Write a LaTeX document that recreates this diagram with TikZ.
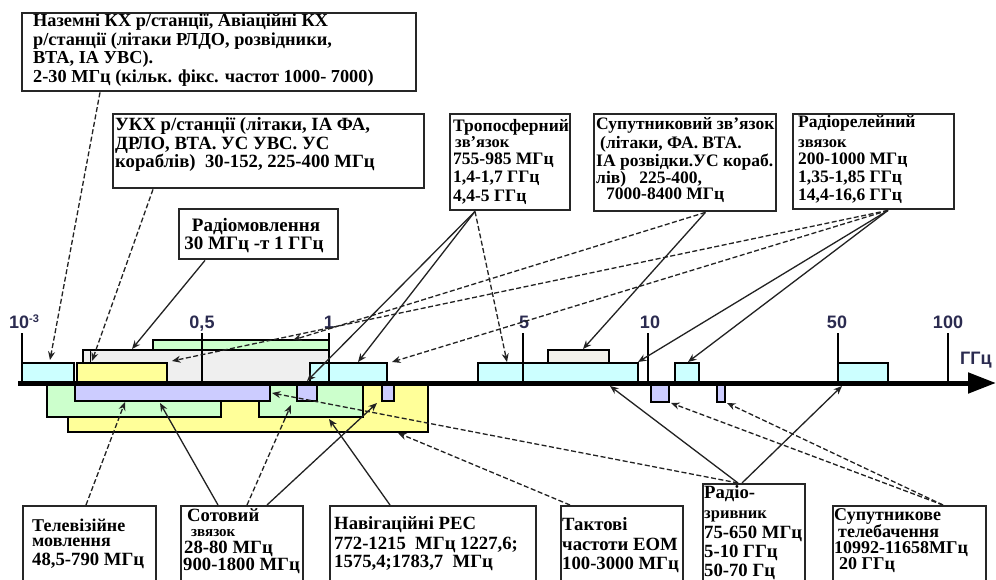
\documentclass[tikz,border=0pt]{standalone}
\usepackage{fontspec}
\setmainfont{Liberation Serif}
\newfontfamily\axfont{Liberation Sans}
\usetikzlibrary{arrows.meta,calc}
\definecolor{cCyan}{HTML}{CCFFFF}
\definecolor{cYellow}{HTML}{FFFF99}
\definecolor{cGreen}{HTML}{CCFFCC}
\definecolor{cPurple}{HTML}{CCCCFF}
\definecolor{cGray}{HTML}{EFEFEF}
\definecolor{cBeige}{HTML}{F3F1EA}
\definecolor{cAx}{HTML}{2B2B50}
\definecolor{cLine}{HTML}{222222}
\tikzset{
  boxst/.style={draw=black!85, line width=2.4pt, fill=white, inner sep=0pt, anchor=north west},
  txt/.style={anchor=base west, inner sep=0pt, font=\bfseries\fontsize{18.7}{20}\selectfont},
  txtc/.style={txt, anchor=base},
  ftl/.style={font=\bfseries\fontsize{18.3}{20}\selectfont},
  fup/.style={font=\bfseries\fontsize{17.5}{19}\selectfont},
  frad/.style={font=\bfseries\fontsize{19}{20}\selectfont},
  fst/.style={font=\bfseries\fontsize{18}{19}\selectfont},
  small/.style={font=\bfseries\fontsize{16.5}{17}\selectfont},
  smaller/.style={font=\bfseries\fontsize{15}{16}\selectfont},
  conn/.style={line width=1.3pt, draw=cLine, -{Stealth[length=8.5pt,width=7pt]}},
  dconn/.style={conn, dash pattern=on 5pt off 2.5pt},
  bandst/.style={draw=black, line width=1.3pt},
  tickst/.style={draw=black, line width=1.6pt},
  axl/.style={anchor=base, inner sep=0pt, text=cAx, font=\axfont\bfseries\fontsize{18}{20}\selectfont}
}
\begin{document}
\begin{tikzpicture}[x=1pt,y=-1pt]
\useasboundingbox (0,0) rectangle (996,580);
\fill[white] (0,0) rectangle (996,580);

% ---- bands above the axis
\path[bandst, fill=cGreen]  (153,340) rectangle (329,383);
\path[bandst, fill=cGray]   (83,350) rectangle (329,383);
\draw[line width=1pt] (90,350) -- (90,363);
\path[bandst, fill=cYellow] (77,363) rectangle (167,383);
\path[bandst, fill=cCyan]   (22,363) rectangle (74,383);
\path[bandst, fill=cCyan]   (310,363) rectangle (387,383);
\path[bandst, fill=cCyan]   (478,363) rectangle (638,383);
\path[bandst, fill=cBeige]  (548,350) rectangle (609,363);
\path[bandst, fill=cCyan]   (675,363) rectangle (699,383);
\path[bandst, fill=cCyan]   (838,363) rectangle (888,383);
% ---- bands below the axis
\path[bandst, fill=cYellow] (68,383) rectangle (428,432);
\path[bandst, fill=cGreen]  (47,383) rectangle (221,417);
\path[bandst, fill=cGreen]  (259,383) rectangle (363,417);
\path[bandst, fill=cPurple] (75,383) rectangle (270,401);
\path[bandst, fill=cPurple] (297,383) rectangle (317,401);
\path[bandst, fill=cPurple] (382,383) rectangle (394,401);
\path[bandst, fill=cPurple] (651,383) rectangle (669,402);
\path[bandst, fill=cPurple] (717,383) rectangle (725,402);

% ---- ticks
\foreach \x in {22,202,329,523,648,838,948} \draw[tickst] (\x,333) -- (\x,383);
% ---- axis
\draw[line width=5pt, -{Triangle[length=28pt,width=20pt]}] (18,383) -- (996,383);

% ---- tick labels
\node[axl, anchor=base west] (lA) at (9,328) {10\raisebox{6pt}{\fontsize{11}{11}\selectfont -3}};
\node[axl] (lB) at (202,328) {0,5};
\node[axl] (lC) at (329,328) {1};
\node[axl] (lD) at (524,328) {5};
\node[axl] (lE) at (650,328) {10};
\node[axl] (lF) at (837,328) {50};
\node[axl] (lG) at (948,328) {100};
\node[axl, anchor=base west] (lH) at (960,364) {ГГц};

% ---- boxes
\node[boxst, minimum width=394, minimum height=78] (tl) at (21,12) {};
\node[boxst, minimum width=311, minimum height=74] (ukx) at (112,113) {};
\node[boxst, minimum width=159, minimum height=50] (rad) at (178,208) {};
\node[boxst, minimum width=120, minimum height=96] (tro) at (449,113) {};
\node[boxst, minimum width=182, minimum height=97] (sat) at (593,113) {};
\node[boxst, minimum width=161, minimum height=95] (rrl) at (792,113) {};
\node[boxst, minimum width=133, minimum height=95] (tv) at (22,505) {};
\node[boxst, minimum width=122, minimum height=95] (cel) at (180,505) {};
\node[boxst, minimum width=206, minimum height=95] (nav) at (329,505) {};
\node[boxst, minimum width=122, minimum height=95] (tak) at (560,505) {};
\node[boxst, minimum width=102, minimum height=117] (rz) at (702,483) {};
\node[boxst, minimum width=153, minimum height=95] (st) at (832,505) {};

% ---- connector end points
\coordinate (s1) at ($(tl.south west)+(79,0)$);
\coordinate (s2) at ($(ukx.south west)+(41,0)$);
\coordinate (s3) at ($(rad.south west)+(27,0)$);
\coordinate (s4) at ($(tro.south west)+(26,0)$);
\coordinate (s5) at ($(sat.south east)+(-72,0)$);
\coordinate (s6) at ($(rrl.south west)+(96,0)$);
\coordinate (b1) at ($(tv.north west)+(64,0)$);
\coordinate (b2) at ($(cel.north west)+(38,0)$);
\coordinate (b3) at ($(cel.north west)+(67,0)$);
\coordinate (b4) at ($(cel.north west)+(87,0)$);
\coordinate (b5) at ($(nav.north west)+(61,0)$);
\coordinate (b6) at ($(tak.north west)+(10,0)$);
\coordinate (b7) at ($(rz.north west)+(36,0)$);
\coordinate (b8) at ($(rz.north west)+(40,0)$);
\coordinate (b9) at ($(st.north west)+(111,0)$);

\coordinate (t1) at (50,360);
\coordinate (t2) at (92,361);
\coordinate (t3) at (132,349);
\coordinate (t4) at (307,381);
\coordinate (t5) at (358,362);
\coordinate (t6) at (507,362);
\coordinate (t7) at (293,340);
\coordinate (t8) at (583,349);
\coordinate (t9) at (172,361);
\coordinate (t10) at (392,362);
\coordinate (t11) at (638,362);
\coordinate (t12) at (688,362);
\coordinate (u1) at (125,402);
\coordinate (u2) at (160,403);
\coordinate (u3) at (291,405);
\coordinate (u4) at (377,403);
\coordinate (u5) at (329,419);
\coordinate (u6) at (398,433);
\coordinate (u7) at (272,393);
\coordinate (u8) at (610,386);
\coordinate (u9) at (842,386);
\coordinate (u10) at (671,403);
\coordinate (u11) at (727,403);

% ---- connectors
\draw[dconn] (s1) -- (t1);
\draw[dconn] (s2) -- (t2);
\draw[conn]  (s3) -- (t3);
\draw[conn]  (s4) -- (t4);
\draw[conn]  (s4) -- (t5);
\draw[dconn] (s4) -- (t6);
\draw[dconn] (s5) -- (t7);
\draw[conn]  (s5) -- (t8);
\draw[dconn] (s6) -- (t9);
\draw[dconn] (s6) -- (t10);
\draw[conn]  (s6) -- (t11);
\draw[conn]  (s6) -- (t12);
\draw[dconn] (b1) -- (u1);
\draw[conn]  (b2) -- (u2);
\draw[dconn] (b3) -- (u3);
\draw[conn]  (b4) -- (u4);
\draw[conn]  (b5) -- (u5);
\draw[dconn] (b6) -- (u6);
\draw[dconn] (b7) -- (u7);
\draw[conn]  (b7) -- (u8);
\draw[conn]  (b8) -- (u9);
\draw[dconn] (b9) -- (u10);
\draw[dconn] (b9) -- (u11);

% ---- texts
\node[txt, ftl] (tl1) at (33,27) {Наземні КХ р/станції, Авіаційні КХ};
\node[txt, ftl] (tl2) at (33,46) {р/станції (літаки РЛДО, розвідники,};
\node[txt, ftl] (tl3) at (33,64) {ВТА, ІА УВС).};
\node[txt, ftl] (tl4) at (33,83) {2-30 МГц (кільк. фікс. частот 1000- 7000)};

\node[txt] (uk1) at (115,131) {УКХ р/станції (літаки, ІА ФА,};
\node[txt] (uk2) at (115,150) {ДРЛО, ВТА. УС УВС. УС};
\node[txt] (uk3) at (115,168) {кораблів)\ \ 30-152, 225-400 МГц};

\node[txtc, frad] (ra1) at (256,232) {Радіомовлення};
\node[txtc, frad] (ra2) at (254,250) {30 МГц -т 1 ГГц};

\node[txt, fup] (tr1) at (453,132) {Тропосферний};
\node[txt, small] (tr2) at (455,148) {зв'язок};
\node[txt, fup] (tr3) at (453,165) {755-985 МГц};
\node[txt, fup] (tr4) at (453,183) {1,4-1,7 ГГц};
\node[txt, fup] (tr5) at (453,202) {4,4-5 ГГц};

\node[txt, fup] (sa1) at (596,130) {Супутниковий зв'язок};
\node[txt, fup] (sa2) at (600,149) {(літаки, ФА. ВТА.};
\node[txt, fup] (sa3) at (596,167) {ІА розвідки.УС кораб.};
\node[txt, fup] (sa4) at (596,184) {лів)\ \ \ 225-400,};
\node[txt, fup] (sa5) at (606,200) {7000-8400 МГц};

\node[txt, fup] (rr1) at (798,128) {Радіорелейний};
\node[txt, small] (rr2) at (798,148) {звязок};
\node[txt, fup] (rr3) at (798,165) {200-1000 МГц};
\node[txt, fup] (rr4) at (798,183) {1,35-1,85 ГГц};
\node[txt, fup] (rr5) at (798,201) {14,4-16,6 ГГц};

\node[txt, fst] (tv1) at (32,531) {Телевізійне};
\node[txt, fst] (tv2) at (32,546) {мовлення};
\node[txt] (tv3) at (32,565) {48,5-790 МГц};

\node[txt] (ce1) at (187,521) {Сотовий};
\node[txt, smaller] (ce2) at (191,536) {звязок};
\node[txt] (ce3) at (184,553) {28-80 МГц};
\node[txt] (ce4) at (183,570) {900-1800 МГц};

\node[txt] (na1) at (334,529) {Навігаційні РЕС};
\node[txt] (na2) at (334,549) {772-1215\ \ МГц 1227,6;};
\node[txt] (na3) at (334,567) {1575,4;1783,7\ \ МГц};

\node[txt] (ta1) at (562,530) {Тактові};
\node[txt] (ta2) at (562,550) {частоти ЕОМ};
\node[txt] (ta3) at (562,569) {100-3000 МГц};

\node[txt] (rz1) at (704,498) {Радіо-};
\node[txt, small] (rz2) at (704,518) {зривник};
\node[txt] (rz3) at (704,538) {75-650 МГц};
\node[txt] (rz4) at (704,557) {5-10 ГГц};
\node[txt] (rz5) at (704,576) {50-70 Гц};

\node[txt, fst] (st1) at (834,520) {Супутникове};
\node[txt, fst] (st2) at (838,537) {телебачення};
\node[txt, fst] (st3) at (834,553) {10992-11658МГц};
\node[txt, fst] (st4) at (839,569) {20 ГГц};
\end{tikzpicture}
\end{document}
